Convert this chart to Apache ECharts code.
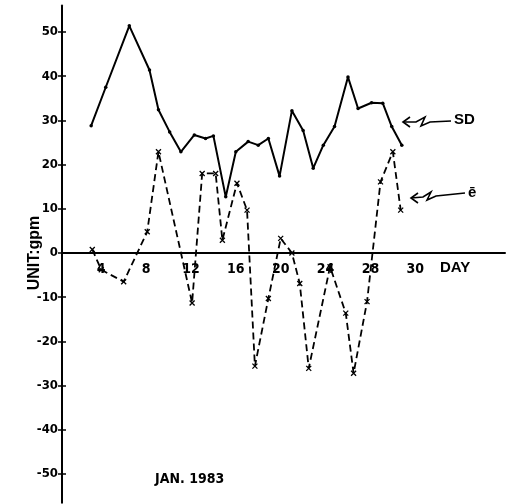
<!DOCTYPE html>
<html>
<head>
<meta charset="utf-8">
<script src="https://cdn.jsdelivr.net/npm/echarts@6/dist/echarts.min.js"></script>
<style>
html,body{margin:0;padding:0;background:#fff;}
#c{width:506px;height:504px;}
</style>
</head>
<body>
<div id="c"></div>
<script>
// Day positions (axis units) and values
const sdDays = [3.1,4.4,6.5,8.3,9.1,10.1,11.1,12.3,13.3,14.0,15.1,16.0,17.1,18.0,18.9,19.9,21.0,22.0,22.9,23.8,24.8,26.0,26.9,28.1,29.1,29.9,30.8];
const sdValues = [28.8,37.5,51.4,41.4,32.4,27.4,22.9,26.7,25.9,26.5,12.7,22.9,25.2,24.4,25.9,17.4,32.2,27.7,19.2,24.4,28.6,39.8,32.7,34.0,33.9,28.6,24.4];

const eDays = [3.2,4.0,6.0,8.1,9.1,12.1,13.0,14.2,14.8,16.1,17.0,17.7,18.9,20.0,21.0,21.7,22.5,24.4,25.8,26.5,27.7,28.9,30.0,30.7];
const eValues = [0.8,-3.8,-6.5,4.8,22.9,-11.3,18.0,18.0,2.9,15.8,9.7,-25.6,-10.3,3.3,0.0,-6.9,-26.1,-3.1,-13.6,-27.2,-11.0,16.1,22.9,9.7];

const yTicks = [-50,-40,-30,-20,-10,0,10,20,30,40,50];
const xTickPos = [4,8,12,16,20,24,28,32];
const xTickLabels = ['4','8','12','16','20','24','28','30'];

const FONT = "'Liberation Sans Narrow','DejaVu Sans Condensed','Liberation Sans',sans-serif";
const XMARK = 'path://M0,0L10,10M10,0L0,10';

const Y_MIN = -56.5, Y_MAX = 56, G_TOP = 5.5, G_BOTTOM = 1.3, H = 504;
const plotH = H - G_TOP - G_BOTTOM;
const zeroFromBottom = plotH * (0 - Y_MIN) / (Y_MAX - Y_MIN);

const chart = echarts.init(document.getElementById('c'), null, {renderer:'canvas'});
chart.setOption({
  backgroundColor:'#fff',
  animation:false,
  grid:{left:62, right:1, top:G_TOP, bottom:G_BOTTOM, containLabel:false},
  xAxis:{
    type:'value', min:0.5, max:40, position:'bottom', offset:-zeroFromBottom,
    axisLine:{onZero:false, lineStyle:{color:'#000', width:2}},
    axisTick:{show:false},
    splitLine:{show:false},
    axisLabel:{
      customValues:xTickPos,
      margin:9,
      fontFamily:FONT, fontWeight:'bold', fontSize:14, color:'#000',
      formatter:function(v){ const i = xTickPos.indexOf(v); return i>=0 ? xTickLabels[i] : ''; }
    }
  },
  yAxis:[{
    type:'value', min:Y_MIN, max:Y_MAX,
    axisLine:{show:true, lineStyle:{color:'#000', width:2}},
    axisTick:{show:true, customValues:yTicks, length:4, lineStyle:{color:'#000', width:1.5}},
    splitLine:{show:false},
    axisLabel:{customValues:yTicks, margin:4, fontFamily:FONT, fontWeight:'bold', fontSize:13, color:'#000'}
  },{
    type:'value', min:Y_MIN, max:Y_MAX, position:'right', offset:-443,
    axisLine:{show:false},
    axisTick:{show:true, customValues:yTicks, length:4, lineStyle:{color:'#000', width:1.5}},
    splitLine:{show:false},
    axisLabel:{show:false}
  }],
  series:[{
    name:'SD', type:'line',
    data:sdDays.map((d,i)=>[d,sdValues[i]]),
    lineStyle:{color:'#000', width:2},
    symbol:'circle', symbolSize:3.5,
    itemStyle:{color:'#000'}
  },{
    name:'e', type:'line',
    data:eDays.map((d,i)=>[d,eValues[i]]),
    lineStyle:{color:'#000', width:1.8, type:[7,4]},
    symbol:XMARK, symbolSize:5,
    itemStyle:{color:'none', borderColor:'#000', borderWidth:1.3}
  }],
  graphic:[
    {type:'text', x:35, y:253, rotation:Math.PI/2, style:{text:'UNIT:gpm', fontFamily:"'Liberation Sans',sans-serif", fontWeight:'bold', fontSize:16, fill:'#000', align:'center', verticalAlign:'middle'}},
    {type:'polyline', shape:{points:[[403,122],[416,122],[425,117],[421,126],[430,122],[451,121]]}, style:{stroke:'#000', lineWidth:1.6, fill:null}},
    {type:'polyline', shape:{points:[[410,117],[403,122],[410,127]]}, style:{stroke:'#000', lineWidth:1.6, fill:null}},
    {type:'text', x:454, y:120, style:{text:'SD', fontFamily:"'Liberation Sans',sans-serif", fontWeight:'bold', fontSize:15, fill:'#000', verticalAlign:'middle'}},
    {type:'polyline', shape:{points:[[411,198],[423,197],[431,192],[427,200],[436,196],[465,193]]}, style:{stroke:'#000', lineWidth:1.6, fill:null}},
    {type:'polyline', shape:{points:[[418,193],[411,198],[418,203]]}, style:{stroke:'#000', lineWidth:1.6, fill:null}},
    {type:'text', x:468, y:193, style:{text:'ē', fontFamily:"'Liberation Sans',sans-serif", fontWeight:'bold', fontSize:15, fill:'#000', verticalAlign:'middle'}},
    {type:'text', x:440, y:268, style:{text:'DAY', fontFamily:"'Liberation Sans',sans-serif", fontWeight:'bold', fontSize:15, fill:'#000', verticalAlign:'middle'}},
    {type:'text', x:155, y:479, style:{text:'JAN. 1983', fontFamily:FONT, fontWeight:'bold', fontSize:14, fill:'#000', verticalAlign:'middle'}}
  ]
});
</script>
</body>
</html>
